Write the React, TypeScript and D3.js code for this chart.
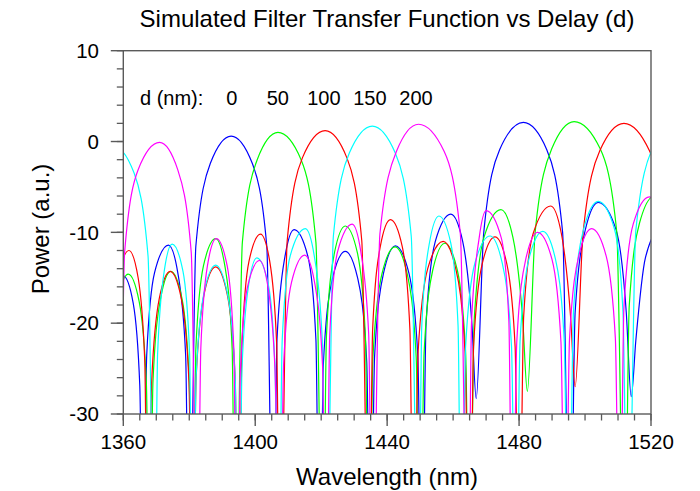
import React from 'react';
import * as d3 from 'd3';

const title = 'Simulated Filter Transfer Function vs Delay (d)';
const xLabel = 'Wavelength (nm)';
const yLabel = 'Power (a.u.)';
const xTicks = [1360, 1400, 1440, 1480, 1520];
const yTicks = [10, 0, -10, -20, -30];
const legendTitle = 'd (nm):';
const delays = ['0', '50', '100', '150', '200'];
const colors = ['#0000ff', '#00ff00', '#ff0000', '#00ffff', '#ff00ff'];

type P = [number, number];

const blue: P[] = [
  [1354, -50], [1355.0, -26.9], [1357.0, -17.8], [1360, -14.8], [1363.0, -17.8], [1365.0, -26.9],
  [1366, -50], [1367.1, -23.5], [1369.5, -14.4], [1373.7, -11.4], [1376.5, -14.4], [1378.9, -23.5],
  [1380, -50], [1382.0, -11.5], [1386.4, -2.4], [1392.7, 0.6], [1399.1, -2.4], [1403.5, -11.5],
  [1405.5, -50], [1406.6, -21.8], [1409.0, -12.7], [1411.8, -9.7], [1416.0, -12.7], [1418.4, -21.8],
  [1419.5, -50], [1420.7, -24.2], [1423.4, -15.1], [1427.3, -12.1], [1431.1, -15.1], [1433.8, -24.2],
  [1435, -50], [1436.2, -23.6], [1438.9, -14.5], [1442.5, -11.5], [1446.6, -14.5], [1449.3, -23.6],
  [1450.5, -50], [1451.8, -20.1], [1454.6, -11.0], [1459.3, -8.0], [1462.9, -11.0], [1465.7, -20.1],
  [1467, -28.3], [1469.3, -10.0], [1474.1, -0.9], [1481.3, 2.1], [1488.4, -0.9], [1493.2, -10.0],
  [1495.5, -50], [1497.0, -18.8], [1500.1, -9.7], [1504, -6.7], [1509.4, -9.7], [1512.5, -18.8],
  [1514, -28.1], [1515.4, -21.9], [1518.3, -12.8], [1522.5, -9.8], [1527, -14], [1530, -50],
];

const green: P[] = [
  [1355, -50], [1356.0, -26.7], [1358.3, -17.6], [1361.5, -14.6], [1364.8, -17.6], [1367.0, -26.7],
  [1368, -50], [1369.0, -26.4], [1371.3, -17.3], [1374.4, -14.3], [1377.8, -17.3], [1380.0, -26.4],
  [1381, -50], [1382.0, -22.8], [1384.3, -13.7], [1388, -10.7], [1390.8, -13.7], [1393.0, -22.8],
  [1394, -50], [1396.1, -11.1], [1400.6, -2.0], [1406.9, 1.0], [1413.9, -2.0], [1418.4, -11.1],
  [1420.5, -50], [1421.6, -21.4], [1424.0, -12.3], [1427.3, -9.3], [1431.0, -12.3], [1433.4, -21.4],
  [1434.5, -50], [1435.7, -23.7], [1438.4, -14.6], [1442.4, -11.6], [1446.1, -14.6], [1448.8, -23.7],
  [1450, -50], [1451.2, -23.3], [1453.8, -14.2], [1457.5, -11.2], [1461.3, -14.2], [1463.8, -23.3],
  [1465, -50], [1466.4, -19.6], [1469.4, -10.5], [1474.5, -7.5], [1478.1, -10.5], [1481.1, -19.6],
  [1482.5, -27.5], [1484.9, -9.9], [1489.9, -0.8], [1496.7, 2.2], [1504.6, -0.8], [1509.6, -9.9],
  [1512, -50], [1513.4, -18.1], [1516.5, -9.0], [1521, -6.0], [1525, -9], [1528.5, -50],
];

const red: P[] = [
  [1355.5, -50], [1356.5, -24.1], [1358.5, -15.0], [1361.7, -12.0], [1364.5, -15.0], [1366.5, -24.1],
  [1367.5, -50], [1368.6, -26.4], [1370.9, -17.3], [1374.2, -14.3], [1377.6, -17.3], [1379.9, -26.4],
  [1381, -50], [1382.1, -25.9], [1384.5, -16.8], [1388, -13.8], [1391.5, -16.8], [1393.9, -25.9],
  [1395, -50], [1396.0, -22.3], [1398.1, -13.2], [1401.6, -10.2], [1404.4, -13.2], [1406.5, -22.3],
  [1407.5, -50], [1409.7, -10.9], [1414.3, -1.8], [1421.2, 1.2], [1427.8, -1.8], [1432.3, -10.9],
  [1434.5, -50], [1435.6, -20.7], [1437.9, -11.6], [1441, -8.6], [1444.6, -11.6], [1446.9, -20.7],
  [1448, -50], [1449.4, -23.1], [1452.3, -14.0], [1457, -11.0], [1460.8, -14.0], [1463.6, -23.1],
  [1465, -50], [1466.2, -22.6], [1468.8, -13.5], [1472.7, -10.5], [1476.3, -13.5], [1478.8, -22.6],
  [1480, -50], [1481.4, -19.2], [1484.3, -10.1], [1489.6, -7.1], [1492.8, -10.1], [1495.6, -19.2],
  [1497, -27], [1499.4, -10.1], [1504.5, -1.0], [1511.8, 2.0], [1519.5, -1.0], [1524.6, -10.1], [1527, -50],
];

const cyan: P[] = [
  [1344.5, -50], [1346.5, -12.6], [1350.8, -3.5], [1357, -0.5], [1363.3, -3.5], [1367.5, -12.6],
  [1369.5, -50], [1370.4, -23.4], [1372.4, -14.3], [1374.8, -11.3], [1378.1, -14.3], [1380.1, -23.4],
  [1381, -50], [1382.1, -25.7], [1384.5, -16.6], [1388, -13.6], [1391.5, -16.6], [1393.9, -25.7],
  [1395, -50], [1396.0, -24.9], [1398.0, -15.8], [1400.5, -12.8], [1404.0, -15.8], [1406.0, -24.9],
  [1407, -50], [1408.2, -21.7], [1410.6, -12.6], [1415.2, -9.6], [1417.9, -12.6], [1420.3, -21.7],
  [1421.5, -50], [1423.7, -10.4], [1428.5, -1.3], [1435.5, 1.7], [1442.5, -1.3], [1447.3, -10.4],
  [1449.5, -50], [1450.5, -20.3], [1452.8, -11.2], [1455.7, -8.2], [1459.3, -11.2], [1461.5, -20.3],
  [1462.5, -50], [1463.8, -22.5], [1466.6, -13.4], [1471.2, -10.4], [1474.9, -13.4], [1477.7, -22.5],
  [1479, -50], [1480.3, -22.0], [1483.0, -12.9], [1487.2, -9.9], [1491.0, -12.9], [1493.7, -22.0],
  [1495, -50], [1496.5, -18.7], [1499.6, -9.6], [1504, -6.6], [1508.9, -9.6], [1511.5, -18.7],
  [1513, -50], [1515.4, -9.8], [1520.5, -0.7], [1528, 2.3],
];

const magenta: P[] = [
  [1344.5, -50], [1345.6, -21.1], [1347.5, -15], [1351.5, -12], [1355, -15], [1357.4, -24.1],
  [1358.5, -50], [1360.4, -12.2], [1364.5, -3.1], [1371, -0.1], [1376.5, -3.1], [1380.6, -12.2],
  [1382.5, -50], [1383.5, -22.8], [1385.5, -13.7], [1388.2, -10.7], [1391.5, -13.7], [1393.5, -22.8],
  [1394.5, -50], [1395.5, -25.2], [1397.6, -16.1], [1401.3, -13.1], [1403.9, -16.1], [1406.0, -25.2],
  [1407.5, -50], [1408.6, -24.6], [1411.0, -15.5], [1415, -12.5], [1418.0, -15.5], [1420.4, -24.6],
  [1421.5, -50], [1422.6, -21.2], [1425.0, -12.1], [1429.4, -9.1], [1432.0, -12.1], [1434.4, -21.2],
  [1435.5, -50], [1437.8, -10.2], [1442.8, -1.1], [1449.5, 1.9], [1457.3, -1.1], [1462.2, -10.2],
  [1464.5, -50], [1465.6, -19.7], [1467.9, -10.6], [1470, -7.6], [1474.6, -10.6], [1476.9, -19.7],
  [1478, -50], [1479.3, -22.1], [1482.0, -13.0], [1485.6, -10.0], [1490.0, -13.0], [1492.7, -22.1],
  [1494, -50], [1495.3, -21.7], [1498.1, -12.6], [1502, -9.6], [1506.4, -12.6], [1509.2, -21.7],
  [1510.5, -50], [1511.8, -18.2], [1514.6, -9.1], [1519.5, -6.1], [1522.9, -9.1], [1525.7, -18.2], [1527, -50],
];

const series = [blue, green, red, cyan, magenta];

const W = 700;
const H = 491;
const L = 123.3;
const R = 651;
const T = 50.7;
const B = 414;
const AX = '#5a5a5a';
const FONT = "'Liberation Sans', Arial, sans-serif";

export default function App() {
  const x = d3.scaleLinear().domain([1360, 1520]).range([L, R]);
  const y = d3.scaleLinear().domain([-30, 10]).range([B, T]);
  const line = d3
    .line<P>()
    .x((d) => x(d[0]))
    .y((d) => y(d[1]))
    .curve(d3.curveMonotoneX);
  const xMinor = d3.range(1360, 1520.01, 5);
  const yMinor = d3.range(-30, 10.01, 2);
  const legendX = d3.scalePoint<string>().domain(delays).range([231.7, 416]);

  return (
    <svg
      width={W}
      height={H}
      viewBox={`0 0 ${W} ${H}`}
      style={{ position: 'absolute', left: 0, top: 0, background: '#fff' }}
      fontFamily={FONT}
    >
      <defs>
        <clipPath id="plotclip">
          <rect x={L} y={T} width={R - L} height={B - T} />
        </clipPath>
      </defs>
      <rect x={0} y={0} width={W} height={H} fill="#fff" />
      <text x={387} y={27} textAnchor="middle" fontSize={24} fill="#000">
        {title}
      </text>

      <g clipPath="url(#plotclip)">
        {series.map((s, i) => (
          <path key={i} d={line(s) || ''} fill="none" stroke={colors[i]} strokeWidth={1.2} />
        ))}
      </g>

      {/* frame */}
      <rect x={L} y={T} width={R - L} height={B - T} fill="none" stroke={AX} strokeWidth={1.4} />

      {/* x ticks */}
      {xMinor.map((v) => (
        <line key={'xm' + v} x1={x(v)} x2={x(v)} y1={B} y2={B + 6.5} stroke={AX} strokeWidth={1.3} />
      ))}
      {xTicks.map((v) => (
        <g key={'xt' + v}>
          <line x1={x(v)} x2={x(v)} y1={B} y2={B + 12} stroke={AX} strokeWidth={1.4} />
          <text x={x(v)} y={449} textAnchor="middle" fontSize={20.5} fill="#000">
            {v}
          </text>
        </g>
      ))}

      {/* y ticks */}
      {yMinor.map((v) => (
        <line key={'ym' + v} x1={L - 6.5} x2={L} y1={y(v)} y2={y(v)} stroke={AX} strokeWidth={1.3} />
      ))}
      {yTicks.map((v) => (
        <g key={'yt' + v}>
          <line x1={L - 12.5} x2={L} y1={y(v)} y2={y(v)} stroke={AX} strokeWidth={1.4} />
          <text x={99} y={y(v) + 7.3} textAnchor="end" fontSize={20.5} fill="#000">
            {v}
          </text>
        </g>
      ))}

      <text x={387} y={485} textAnchor="middle" fontSize={24} fill="#000">
        {xLabel}
      </text>
      <text
        transform={`translate(48.5,229) rotate(-90)`}
        textAnchor="middle"
        fontSize={24}
        fill="#000"
      >
        {yLabel}
      </text>

      {/* legend */}
      <text x={140} y={105} fontSize={20} fill="#000">
        {legendTitle}
      </text>
      {delays.map((d) => (
        <text key={d} x={legendX(d)} y={105} textAnchor="middle" fontSize={20} fill="#000">
          {d}
        </text>
      ))}
    </svg>
  );
}
